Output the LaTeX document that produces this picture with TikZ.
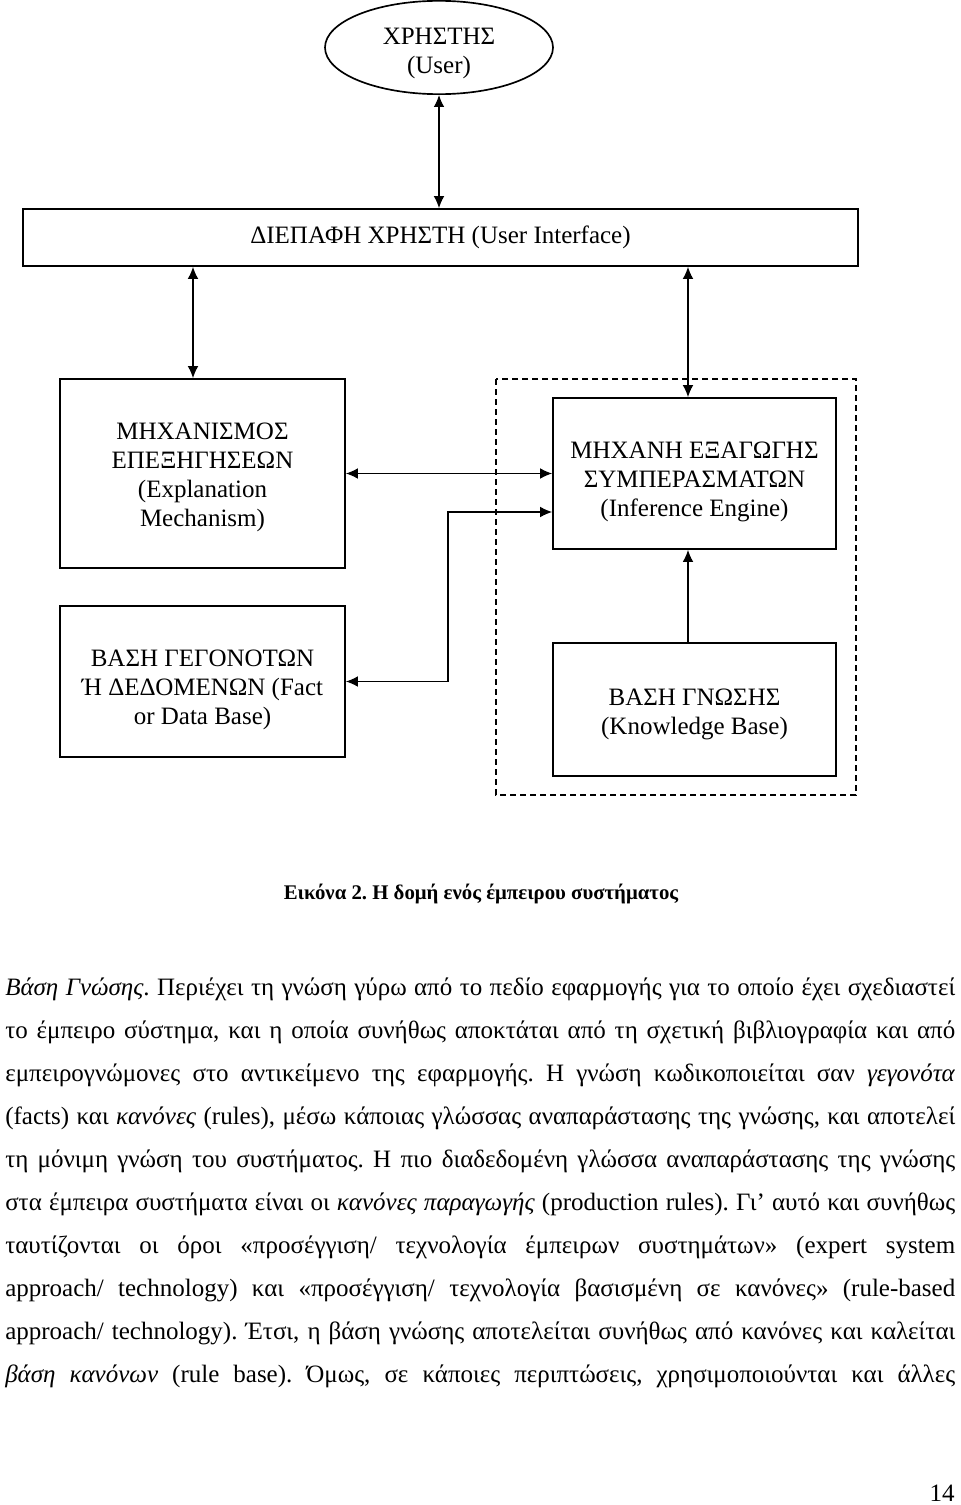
\documentclass[tikz,border=0pt]{standalone}
\usepackage{fontspec}
\setmainfont{Liberation Serif}
\usetikzlibrary{arrows.meta,shapes.geometric}
\newcommand\diagfont{\fontsize{18.75pt}{21.75pt}\selectfont}
\newcommand\captfont{\fontsize{15.6pt}{18pt}\selectfont\bfseries}
\newcommand\parfont{\fontsize{18.75pt}{32.25pt}\selectfont}
\newcommand\jline[1]{\makebox[712.5pt][s]{#1}}
\frenchspacing
\begin{document}
\begin{tikzpicture}[x=0.75pt,y=-0.75pt,
  box/.style={draw, line width=1.25pt, inner sep=0pt},
  btext/.style={inner sep=0pt, align=center, font=\diagfont},
  conn/.style={line width=1pt},
  dbl/.style={arrows={Latex[length=9pt,width=8pt]}-{Latex[length=9pt,width=8pt]}},
  sgl/.style={arrows=-{Latex[length=9pt,width=8pt]}},
  ptext/.style={anchor=base west, inner sep=0pt, font=\parfont}]
\useasboundingbox (0,0) rectangle (960,1505);
\fill[white] (0,0) rectangle (960,1505);

% shapes
\node[draw, ellipse, line width=1.25pt, inner sep=0pt,
      minimum width=171pt, minimum height=70pt] (user) at (439,47.5) {};
\node[box, minimum width=626.25pt, minimum height=42.75pt] (ui) at (440.5,237.5) {};
\node[box, minimum width=213.75pt, minimum height=141.75pt] (exp) at (202.5,473.5) {};
\node[box, minimum width=212.25pt, minimum height=113.25pt] (inf) at (694.5,473.5) {};
\node[box, minimum width=213.75pt, minimum height=113.25pt] (fact) at (202.5,681.5) {};
\node[box, minimum width=212.25pt, minimum height=99.75pt] (know) at (694.5,709.5) {};
\draw[line width=1.25pt, dash pattern=on 4.5pt off 3pt] (496,379) rectangle (856,795);

% texts
\node[btext] (usert) at ([yshift=-4.5pt]user.center) {ΧΡΗΣΤΗΣ\\(User)};
\node[btext] (uit) at ([yshift=0pt]ui.center) {ΔΙΕΠΑΦΗ ΧΡΗΣΤΗ (User Interface)};
\node[btext] (expt) at ([yshift=-3pt]exp.center) {ΜΗΧΑΝΙΣΜΟΣ\\ΕΠΕΞΗΓΗΣΕΩΝ\\(Explanation\\Mechanism)};
\node[btext] (inft) at ([yshift=-6pt]inf.center) {ΜΗΧΑΝΗ ΕΞΑΓΩΓΗΣ\\ΣΥΜΠΕΡΑΣΜΑΤΩΝ\\(Inference Engine)};
\node[btext] (factt) at ([yshift=-6.5pt]fact.center) {ΒΑΣΗ ΓΕΓΟΝΟΤΩΝ\\Ή ΔΕΔΟΜΕΝΩΝ (Fact\\or Data Base)};
\node[btext] (knowt) at ([yshift=-3.75pt]know.center) {ΒΑΣΗ ΓΝΩΣΗΣ\\(Knowledge Base)};

% connectors
\coordinate (cl) at (193,0);
\coordinate (cr) at (688,0);
\coordinate (jx) at (448,512);
\draw[conn,dbl] (user.south) -- (user.south |- ui.north);
\draw[conn,dbl] (cl |- ui.south) -- (cl |- exp.north);
\draw[conn,dbl] (cr |- ui.south) -- (cr |- inf.north);
\draw[conn,dbl] (exp.east) -- (inf.west);
\draw[conn,dbl] (fact.east) -| (jx) -- (inf.west |- jx);
\draw[conn,sgl] (cr |- know.north) -- (cr |- inf.south);

% caption
\node[anchor=base, inner sep=0pt, font=\captfont] (cap) at (481,899)
      {Εικόνα 2. Η δομή ενός έμπειρου συστήματος};

% paragraph
\node[ptext] (l1) at (5,995) {\jline{\textit{Βάση Γνώσης}. Περιέχει τη γνώση γύρω από το πεδίο εφαρμογής για το οποίο έχει σχεδιαστεί}};
\node[ptext] (l2) at (5,1038) {\jline{το έμπειρο σύστημα, και η οποία συνήθως αποκτάται από τη σχετική βιβλιογραφία και από}};
\node[ptext] (l3) at (5,1081) {\jline{εμπειρογνώμονες στο αντικείμενο της εφαρμογής. Η γνώση κωδικοποιείται σαν \textit{γεγονότα}}};
\node[ptext] (l4) at (5,1124) {\jline{(facts) και \textit{κανόνες} (rules), μέσω κάποιας γλώσσας αναπαράστασης της γνώσης, και αποτελεί}};
\node[ptext] (l5) at (5,1167) {\jline{τη μόνιμη γνώση του συστήματος. Η πιο διαδεδομένη γλώσσα αναπαράστασης της γνώσης}};
\node[ptext] (l6) at (5,1210) {\jline{στα έμπειρα συστήματα είναι οι \textit{κανόνες παραγωγής} (production rules). Γι’ αυτό και συνήθως}};
\node[ptext] (l7) at (5,1253) {\jline{ταυτίζονται οι όροι «προσέγγιση/ τεχνολογία έμπειρων συστημάτων» (expert system}};
\node[ptext] (l8) at (5,1296) {\jline{approach/ technology) και «προσέγγιση/ τεχνολογία βασισμένη σε κανόνες» (rule-based}};
\node[ptext] (l9) at (5,1339) {\jline{approach/ technology). Έτσι, η βάση γνώσης αποτελείται συνήθως από κανόνες και καλείται}};
\node[ptext] (l10) at (5,1382) {\jline{\textit{βάση κανόνων} (rule base). Όμως, σε κάποιες περιπτώσεις, χρησιμοποιούνται και άλλες}};

\node[anchor=base east, inner sep=0pt, font=\parfont] (pg) at (955,1501) {14};
\end{tikzpicture}
\end{document}
